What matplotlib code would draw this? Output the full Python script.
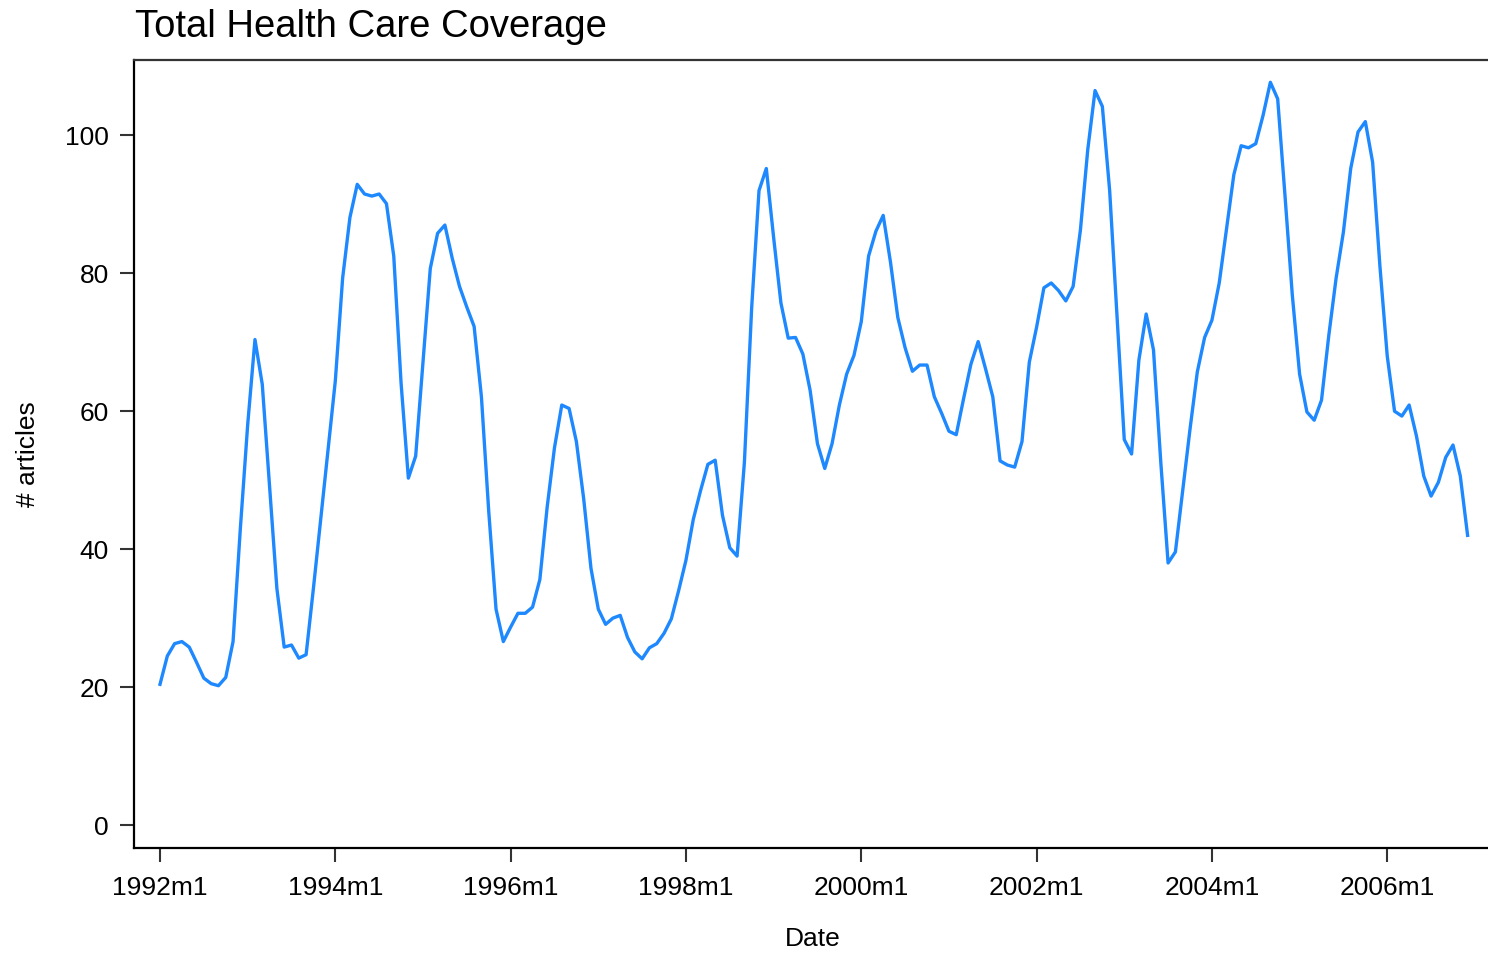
import numpy as np
import matplotlib.pyplot as plt

# monthly article counts, 1992m1 .. 2006m12
articles = [
    20.4, 24.5, 26.3, 26.6, 25.8, 23.6, 21.3, 20.5, 20.2, 21.4, 26.6, 43.0,
    58.0, 70.4, 63.9, 49.0, 34.3, 25.8, 26.1, 24.2, 24.7, 34.3, 44.3, 54.3,
    64.4, 79.3, 88.1, 92.9, 91.5, 91.2, 91.5, 90.1, 82.5, 64.1, 50.3, 53.5,
    67.1, 80.7, 85.8, 87.0, 82.2, 78.1, 75.1, 72.3, 62.1, 45.5, 31.3, 26.6,
    28.7, 30.7, 30.7, 31.6, 35.6, 46.1, 54.7, 60.9, 60.4, 55.6, 47.3, 37.2,
    31.3, 29.1, 30.0, 30.4, 27.2, 25.1, 24.1, 25.7, 26.3, 27.8, 29.9, 34.0,
    38.4, 44.3, 48.5, 52.3, 52.9, 44.9, 40.2, 39.0, 52.6, 75.1, 92.0, 95.2,
    85.2, 75.7, 70.6, 70.7, 68.3, 63.0, 55.3, 51.7, 55.3, 60.9, 65.4, 68.1,
    73.0, 82.5, 86.1, 88.4, 81.6, 73.6, 69.2, 65.8, 66.7, 66.7, 62.1, 59.7,
    57.1, 56.6, 61.8, 66.8, 70.1, 66.2, 62.1, 52.8, 52.2, 51.9, 55.6, 67.1,
    72.2, 77.9, 78.6, 77.5, 76.0, 78.1, 86.3, 97.9, 106.5, 104.2, 92.0, 74.0,
    55.9, 53.8, 67.4, 74.1, 68.9, 52.6, 38.0, 39.6, 48.5, 57.4, 65.7, 70.7,
    73.2, 78.6, 86.4, 94.3, 98.5, 98.2, 98.8, 102.9, 107.7, 105.3, 91.3, 76.9,
    65.4, 59.9, 58.7, 61.6, 71.0, 79.3, 86.0, 95.2, 100.5, 102.0, 96.1, 81.0,
    68.0, 60.0, 59.3, 60.9, 56.4, 50.6, 47.7, 49.7, 53.3, 55.1, 50.6, 42.0,
]
tick_labels = ['1992m1', '1994m1', '1996m1', '1998m1',
               '2000m1', '2002m1', '2004m1', '2006m1']
y_ticks = [0, 20, 40, 60, 80, 100]

plt.rcParams['font.family'] = ['Liberation Sans', 'DejaVu Sans']

fig = plt.figure(figsize=(14.88, 9.56), dpi=100)
ax = fig.add_axes([0.090, 0.113, 0.912, 0.824])

months = np.arange(len(articles))
ax.plot(months, articles, color='#1E88FF', linewidth=2.4)

ax.set_xlim(-3.57, 182.2)
ax.set_ylim(-3.33, 110.9)
ax.set_xticks(np.arange(len(tick_labels)) * 24)
ax.set_xticklabels(tick_labels)
ax.set_yticks(y_ticks)

ax.tick_params(axis='both', direction='out', length=10, width=1.5,
               labelsize=19, color='#333333')
ax.tick_params(axis='x', pad=10)
ax.tick_params(axis='y', pad=8)

for side in ['left', 'bottom', 'top']:
    ax.spines[side].set_linewidth(1.6)
ax.spines['top'].set_color('#333333')
ax.spines['right'].set_visible(False)

ax.set_xlabel('Date', fontsize=19)
ax.set_ylabel('# articles', fontsize=19)
ax.xaxis.set_label_coords(0.5, -0.100)
ax.yaxis.set_label_coords(-0.069, 0.5)

fig.text(135 / 1488, 1 - 27 / 956, 'Total Health Care Coverage',
         fontsize=27.5, ha='left', va='center')

fig.savefig('out.png', dpi=100)
